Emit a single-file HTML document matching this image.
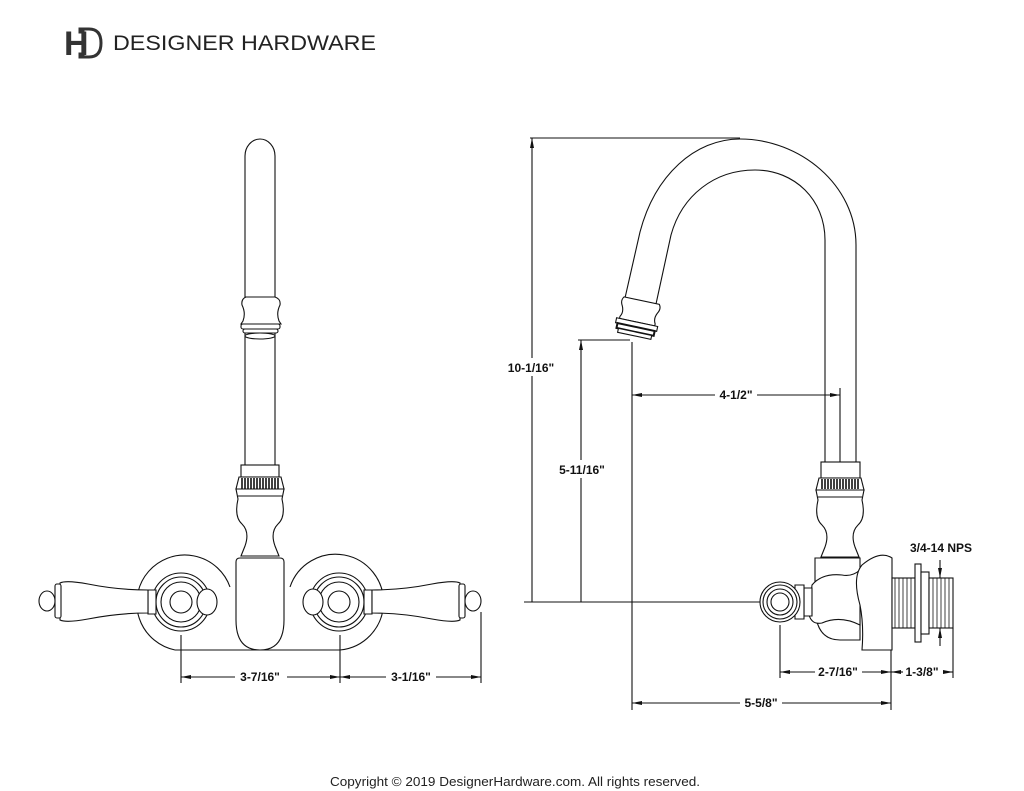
<!DOCTYPE html>
<html><head><style>
body{margin:0;background:#fff}
svg{display:block}
text{font-family:"Liberation Sans",Arial,sans-serif}
.d{font-weight:bold;font-size:12px;fill:#111;text-anchor:middle}
</style></head><body>
<svg width="1024" height="791" viewBox="0 0 1024 791" xmlns="http://www.w3.org/2000/svg">
<defs>
<marker id="a" markerWidth="10" markerHeight="6" refX="10" refY="3" orient="auto-start-reverse" markerUnits="userSpaceOnUse"><path d="M0,1 L10,3 L0,5 z" fill="#111"/></marker>
</defs>
<!-- logo -->
<text x="64" y="55" font-family="Liberation Serif,serif" font-weight="bold" font-size="34" fill="#333">H</text>
<path d="M80,29 h9 q12,0 12,14 q0,14 -12,14 h-9 v-3 h3 v-22 h-3z" fill="none" stroke="#333" stroke-width="3"/>
<text x="113" y="50" font-size="21" fill="#222" textLength="263" lengthAdjust="spacingAndGlyphs">DESIGNER HARDWARE</text>

<g fill="none" stroke="#111" stroke-width="1.1">
<!-- LEFT VIEW -->
<path d="M245,465 V156 A15,17 0 0 1 275,156 V465"/>
<path d="M245,297 h30 q6,2 5,8 q-4,8 -1,16 l2,3 h-40 l2,-3 q3,-8 -1,-16 q-1,-6 4,-8z" fill="#fff"/>
<rect x="241" y="324" width="39" height="5" rx="2" fill="#fff"/>
<rect x="243" y="329" width="35" height="4" rx="2" fill="#fff"/>
<ellipse cx="260" cy="336" rx="15" ry="3" fill="#fff"/>
<rect x="241" y="465" width="38" height="12" fill="#fff"/>
<path d="M239,477 h42 l3,12 h-48z" fill="#fff"/>
<path d="M242,478 v11 M245,478 v11 M248,478 v11 M251,478 v11 M254,478 v11 M257,478 v11 M260,478 v11 M263,478 v11 M266,478 v11 M269,478 v11 M272,478 v11 M275,478 v11 M278,478 v11" stroke-width="1.6"/>
<path d="M236,489 h48 l-2,10 q4,18 -4,25 q-8,8 -3,22 l4,10 h-38 l4,-10 q5,-14 -3,-22 q-8,-7 -4,-25z" fill="#fff"/>
<line x1="238" y1="496" x2="282" y2="496"/>
<line x1="244" y1="556" x2="276" y2="556"/>
<!-- plates -->
<path d="M175,650 H340 A48,48 0 1 0 290,587 M230,587 A48,48 0 1 0 175,650"/>
<path d="M236,562 Q236,558 240,558 H280 Q284,558 284,562 V620 Q284,650 260,650 Q236,650 236,620z" fill="#fff"/>
<!-- left valve -->
<circle cx="181" cy="602" r="29"/><circle cx="181" cy="602" r="25"/><circle cx="181" cy="602" r="20"/><circle cx="181" cy="602" r="11"/>
<ellipse cx="207" cy="602" rx="10" ry="13" fill="#fff"/>
<path d="M148,590 h8 v24 h-8z" fill="#fff"/>
<path d="M148,590 q-30,0 -60,-6 q-22,-4 -28,-1 v37 q6,3 28,-1 q30,-6 60,-6z" fill="#fff"/>
<rect x="55" y="584" width="6" height="34" rx="2" fill="#fff"/>
<ellipse cx="47" cy="601" rx="8" ry="10" fill="#fff"/>
<!-- right valve -->
<circle cx="339" cy="602" r="29"/><circle cx="339" cy="602" r="25"/><circle cx="339" cy="602" r="20"/><circle cx="339" cy="602" r="11"/>
<ellipse cx="313" cy="602" rx="10" ry="13" fill="#fff"/>
<path d="M372,590 h-8 v24 h8z" fill="#fff"/>
<path d="M372,590 q30,0 60,-6 q22,-4 28,-1 v37 q-6,3 -28,-1 q-30,-6 -60,-6z" fill="#fff"/>
<rect x="459" y="584" width="6" height="34" rx="2" fill="#fff"/>
<ellipse cx="473" cy="601" rx="8" ry="10" fill="#fff"/>
<!-- left dims -->
<line x1="181" y1="635" x2="181" y2="683"/>
<line x1="340" y1="635" x2="340" y2="683"/>
<line x1="481" y1="612" x2="481" y2="683"/>
<line x1="181" y1="677" x2="235" y2="677" marker-start="url(#a)"/>
<line x1="287" y1="677" x2="340" y2="677" marker-end="url(#a)"/>
<line x1="340" y1="677" x2="386" y2="677" marker-start="url(#a)"/>
<line x1="436" y1="677" x2="481" y2="677" marker-end="url(#a)"/>

<!-- RIGHT VIEW -->
<path d="M625,298 L640,232 C655,175 695,139 740,139 C800,139 856,185 856,245 V462"/>
<path d="M656,304 L671,235 C682,195 715,170 755,170 C795,170 825,200 825,240 V462"/>
<g transform="rotate(12 637 318)">
<path d="M620,300 h36 q3,4 0,9 q-3,6 0,11 v2 h-36 v-2 q3,-5 0,-11 q-3,-5 0,-9z" fill="#fff"/>
<rect x="617" y="322" width="42" height="5" fill="#fff"/>
<rect x="619" y="327" width="38" height="5" fill="#fff" stroke-width="2"/>
<rect x="621" y="332" width="34" height="4" fill="#fff"/>
</g>
<rect x="821" y="462" width="39" height="16" fill="#fff"/>
<path d="M819,478 h42 l3,12 h-48z" fill="#fff"/>
<path d="M822,479 v10 M825,479 v10 M828,479 v10 M831,479 v10 M834,479 v10 M837,479 v10 M840,479 v10 M843,479 v10 M846,479 v10 M849,479 v10 M852,479 v10 M855,479 v10 M858,479 v10" stroke-width="1.6"/>
<path d="M816,490 h48 l-2,10 q4,18 -4,25 q-8,8 -3,22 l4,10 h-38 l4,-10 q5,-14 -3,-22 q-8,-7 -4,-25z" fill="#fff"/>
<line x1="818" y1="497" x2="862" y2="497"/>
<path d="M815,558 h45 v82 h-20 q-25,0 -25,-35z" fill="#fff"/>
<path d="M812,585 q10,-12 30,-10 q10,2 18,-5 l0,55 q-20,-10 -38,-2 q-10,2 -13,-8z" fill="#fff"/>
<path d="M804,588 h8 v28 h-8z" fill="#fff"/>
<path d="M795,585 h9 v34 h-9z" fill="#fff"/>
<path d="M862,565 q-10,12 -2,40 q4,20 2,45 h30 v-92 q-12,-8 -30,7z" fill="#fff"/>
<circle cx="780" cy="602" r="20" fill="#fff"/><circle cx="780" cy="602" r="17"/><circle cx="780" cy="602" r="13"/><circle cx="780" cy="602" r="9"/>
<!-- shank -->
<rect x="892" y="578" width="23" height="50" fill="#fff"/>
<path d="M895,578 v50 M899,578 v50 M903,578 v50 M907,578 v50 M911,578 v50" stroke-width="0.8"/>
<rect x="915" y="564" width="6" height="78" fill="#fff"/>
<rect x="921" y="572" width="8" height="62" fill="#fff"/>
<rect x="929" y="578" width="24" height="50" fill="#fff"/>
<path d="M933,578 v50 M937,578 v50 M941,578 v50 M945,578 v50 M949,578 v50" stroke-width="0.8"/>
<!-- right dims -->
<line x1="530" y1="138" x2="740" y2="138"/>
<line x1="532" y1="602" x2="532" y2="138" marker-end="url(#a)"/>
<line x1="524" y1="602" x2="760" y2="602"/>
<line x1="578" y1="340" x2="630" y2="340"/>
<line x1="581" y1="602" x2="581" y2="340" marker-end="url(#a)"/>
<line x1="632" y1="342" x2="632" y2="710"/>
<line x1="632" y1="395" x2="715" y2="395" marker-start="url(#a)"/>
<line x1="757" y1="395" x2="840" y2="395" marker-end="url(#a)"/>
<line x1="840" y1="388" x2="840" y2="462"/>
<line x1="780" y1="625" x2="780" y2="678"/>
<line x1="891" y1="650" x2="891" y2="710"/>
<line x1="953" y1="628" x2="953" y2="678"/>
<line x1="780" y1="672" x2="815" y2="672" marker-start="url(#a)"/>
<line x1="862" y1="672" x2="891" y2="672" marker-end="url(#a)"/>
<line x1="891" y1="672" x2="903" y2="672" marker-start="url(#a)"/>
<line x1="943" y1="672" x2="953" y2="672" marker-end="url(#a)"/>
<line x1="632" y1="703" x2="740" y2="703" marker-start="url(#a)"/>
<line x1="782" y1="703" x2="891" y2="703" marker-end="url(#a)"/>
<line x1="940" y1="560" x2="940" y2="578" marker-end="url(#a)"/>
<line x1="940" y1="646" x2="940" y2="628" marker-end="url(#a)"/>
</g>
<rect x="504" y="358" width="54" height="18" fill="#fff"/>
<rect x="554" y="460" width="56" height="18" fill="#fff"/>
<g class="d">
<text class="d" x="260" y="681">3-7/16"</text>
<text class="d" x="411" y="681">3-1/16"</text>
<text class="d" x="531" y="372">10-1/16"</text>
<text class="d" x="582" y="474">5-11/16"</text>
<text class="d" x="736" y="399">4-1/2"</text>
<text class="d" x="838" y="676">2-7/16"</text>
<text class="d" x="922" y="676">1-3/8"</text>
<text class="d" x="761" y="707">5-5/8"</text>
<text class="d" x="941" y="552">3/4-14 NPS</text>
</g>
<text x="330" y="786" font-size="13" fill="#222" textLength="370" lengthAdjust="spacingAndGlyphs">Copyright © 2019 DesignerHardware.com. All rights reserved.</text>
</svg>
</body></html>
